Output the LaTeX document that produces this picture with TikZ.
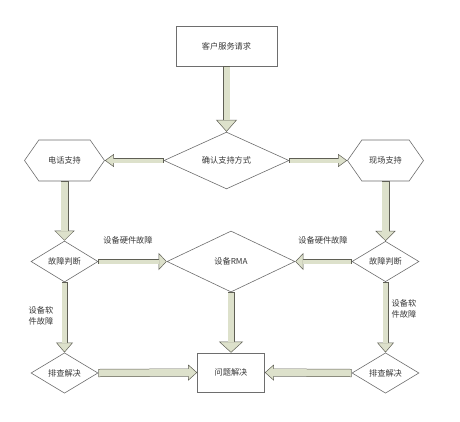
\documentclass[tikz,border=0pt]{standalone}
\usepackage{fontspec}
\newfontfamily\cjk{Noto Sans CJK SC}
\usetikzlibrary{shapes.geometric, shapes.symbols, arrows.meta, positioning}
\definecolor{arrowfill}{RGB}{221,225,203}
\definecolor{arrowline}{RGB}{95,95,85}
\definecolor{shapeline}{RGB}{110,110,110}
\definecolor{txtgray}{RGB}{55,55,55}

\begin{document}
\begin{tikzpicture}[x=1pt, y=-1pt, font=\cjk\fontsize{8.2}{11}\selectfont, text=txtgray,
    shp/.style={draw=shapeline, fill=white, line width=0.6pt, inner sep=0pt},
    rect/.style 2 args={shp, rectangle, minimum width=#1, minimum height=#2},
    dia/.style 2 args={shp, diamond, minimum width=#1, minimum height=#2},
    hexa/.style={shp, signal, signal to=east and west, signal pointer angle=110, minimum width=#1, minimum height=41pt},
    lbl/.style={align=center, inner sep=0pt},
    blk/.style n args={3}{draw=arrowline, line width=#1,
        -{Triangle[length=#3, width=#2, line width=0.5pt, fill=arrowfill]},
        postaction={draw=arrowfill, line width=#1-1pt, -, shorten >=#3-0.6pt, shorten <=0.5pt}}
]
    \useasboundingbox (0,0) rectangle (460,421);

    % top
    \node[rect={101pt}{40pt}] (req) at (226.5,46) {客户服务请求};
    \node[dia={125pt}{55pt}] (confirm) at (226.5,160.5) {确认支持方式};
    \node[hexa=80pt] (phone) at (64.5,160.5) {电话支持};
    \node[hexa=76pt] (onsite) at (385.5,160.5) {现场支持};

    % fault check
    \node[dia={67pt}{41pt}] (judgeL) at (64.5,261.5) {故障判断};
    \node[dia={128pt}{61pt}] (rma) at (231,261.5) {设备RMA};
    \node[dia={67pt}{40pt}] (judgeR) at (385.5,261.5) {故障判断};

    % bottom
    \node[dia={67pt}{40pt}] (fixL) at (64.5,373) {排查解决};
    \node[rect={67pt}{39pt}] (solved) at (231,372.5) {问题解决};
    \node[dia={67pt}{40pt}] (fixR) at (385.5,373) {排查解决};

    \node[lbl] (hwL) at (128,240) {设备硬件故障};
    \node[lbl] (hwR) at (323,240) {设备硬件故障};
    \node[lbl] (swL) at (41,316) {设备软\\件故障};
    \node[lbl] (swR) at (404,309) {设备软\\件故障};

    \draw[blk={7pt}{21pt}{12pt}] (req.south) -- (confirm.north);
    \draw[blk={5pt}{13pt}{9pt}] (confirm.west) -- (phone.east);
    \draw[blk={5pt}{13pt}{9pt}] (confirm.east) -- (onsite.west);
    \draw[blk={8pt}{20pt}{10pt}] (phone.south) -- (judgeL.north);
    \draw[blk={8pt}{20pt}{10pt}] (onsite.south) -- (judgeR.north);
    \draw[blk={5pt}{17pt}{8pt}] (judgeL.east) -- (rma.west);
    \draw[blk={5pt}{17pt}{8pt}] (judgeR.west) -- (rma.east);
    \draw[blk={6pt}{17pt}{10pt}] (judgeL.south) -- (fixL.north);
    \draw[blk={6pt}{17pt}{10pt}] (judgeR.south) -- (fixR.north);
    \draw[blk={7pt}{24pt}{11pt}] (rma.south) -- (solved.north);
    \draw[blk={8pt}{16pt}{9pt}] (fixL.east) -- (solved.west);
    \draw[blk={8pt}{16pt}{9pt}] (fixR.west) -- (solved.east);
\end{tikzpicture}
\end{document}
